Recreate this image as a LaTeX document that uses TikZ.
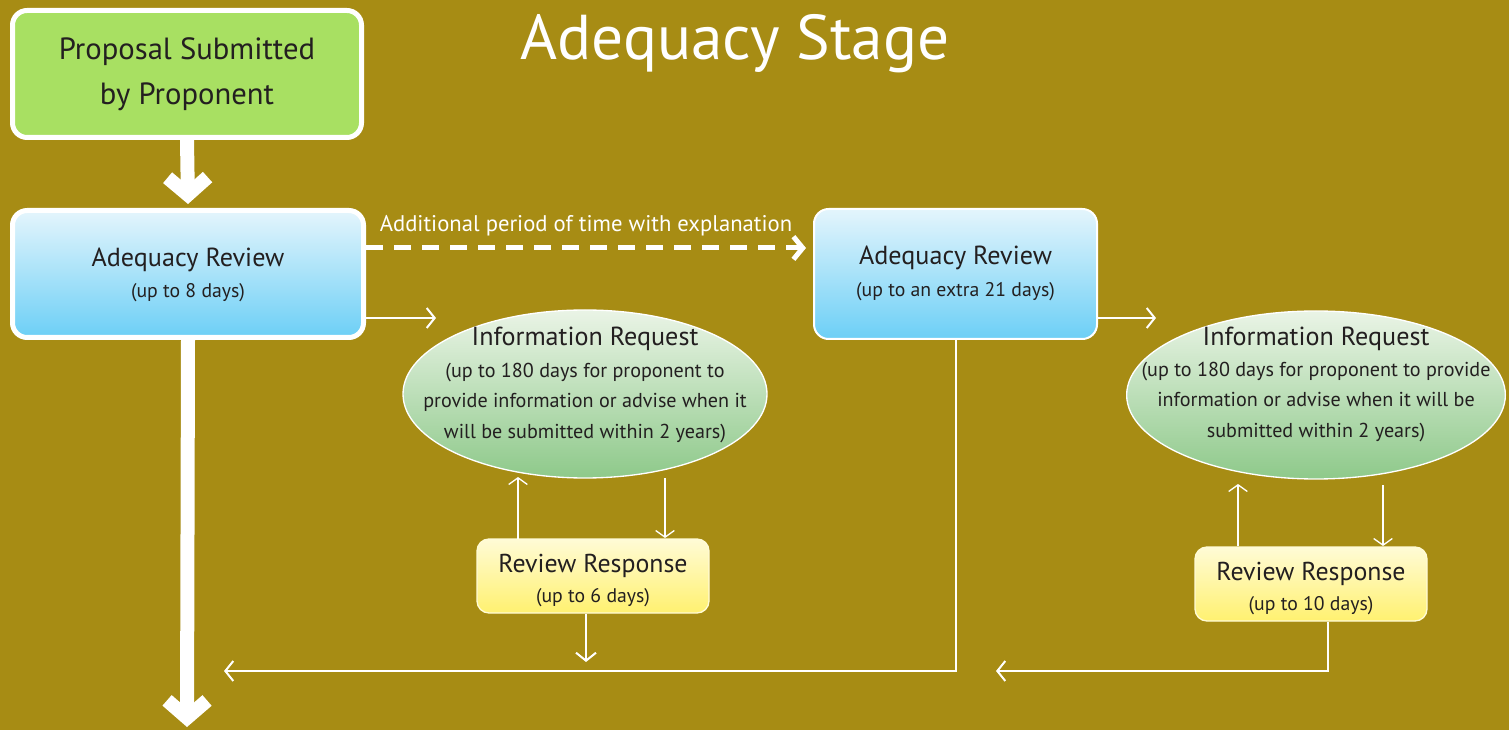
\documentclass[tikz,border=0pt]{standalone}
\usepackage{fontspec}
\setmainfont{PT Sans}
\usetikzlibrary{arrows.meta,shapes.geometric,calc}
\definecolor{bg}{RGB}{167,140,20}
\definecolor{ink}{RGB}{35,31,32}
\definecolor{grn}{RGB}{168,224,98}
\definecolor{bluetop}{RGB}{228,245,252}
\definecolor{bluebot}{RGB}{108,207,246}
\definecolor{eltop}{RGB}{234,244,230}
\definecolor{elbot}{RGB}{142,201,138}
\definecolor{yeltop}{RGB}{255,251,214}
\definecolor{yelbot}{RGB}{255,241,112}
\tikzset{
  bigbox/.style={draw=white, line width=3.75pt, rounded corners=11pt, text=ink, align=center, inner sep=0pt},
  revbox/.style={draw=white, line width=1.5pt, rounded corners=11pt, top color=bluetop, bottom color=bluebot, text=ink, align=center, inner sep=0pt, minimum width=212.25pt, minimum height=97.5pt},
  infoell/.style={ellipse, draw=white, line width=1pt, top color=eltop, bottom color=elbot, inner sep=0pt, minimum width=273pt, minimum height=126pt},
  respbox/.style={draw=yeltop, line width=1pt, rounded corners=9pt, top color=yeltop, bottom color=yelbot, text=ink, align=center, inner sep=0pt, minimum width=174pt, minimum height=55.5pt},
  thickarrow/.style={draw=white, line width=10.5pt, -{Straight Barb[length=13pt, width=30pt]}},
  thinarrow/.style={draw=white, line width=1.5pt, -{Straight Barb[length=6pt, width=15pt]}},
  thinline/.style={draw=white, line width=1pt, -{Straight Barb[length=5pt, width=14pt]}},
  dasharrow/.style={draw=white, line width=3.75pt, dash pattern=on 13pt off 8pt, -{Straight Barb[length=7pt, width=17pt]}},
  bigtxt/.style={font=\fontsize{19.6}{23}\selectfont},
  smalltxt/.style={font=\fontsize{14.8}{18}\selectfont},
  elltxt/.style={font=\fontsize{15.1}{22.8}\selectfont, align=center},
  resptxt/.style={font=\fontsize{19.4}{23}\selectfont},
}
\begin{document}
\begin{tikzpicture}[x=0.75pt,y=-0.75pt]
\fill[bg] (0,0) rectangle (1509,730);
\useasboundingbox (0,0) rectangle (1509,730);

\node[text=white, font=\fontsize{47.5}{52}\selectfont] (title) at (735,44) {Adequacy Stage};

\node[bigbox, fill=grn, minimum width=261.75pt, minimum height=95.25pt, font=\fontsize{23}{27}\selectfont] (prop) at (187,74) {Proposal Submitted\\[7pt]by Proponent};

\node[bigbox, top color=bluetop, bottom color=bluebot, minimum width=263.25pt, minimum height=95.25pt] (ar1) at (188,274) {};
\node[bigtxt, text=ink] (ar1a) at (188,260) {Adequacy Review};
\node[smalltxt, text=ink] (ar1b) at (188,293) {(up to 8 days)};

\node[revbox] (ar2) at (955.5,274) {};
\node[bigtxt, text=ink] (ar2a) at (955.5,258) {Adequacy Review};
\node[smalltxt, text=ink] (ar2b) at (955.5,292) {(up to an extra 21 days)};

\node[infoell] (ir1) at (585,394) {};
\node[bigtxt, text=ink] (ir1a) at (585,339) {Information Request};
\node[elltxt, text=ink] (ir1b) at (585,403) {(up to 180 days for proponent to\\provide information or advise when it\\will be submitted within 2 years)};

\node[infoell, minimum width=284pt] (ir2) at (1316,395) {};
\node[bigtxt, text=ink] (ir2a) at (1316,339) {Information Request};
\node[elltxt, text=ink] (ir2b) at (1316,402) {(up to 180 days for proponent to provide\\information or advise when it will be\\submitted within 2 years)};

\node[respbox] (rr1) at (593,576) {};
\node[resptxt, text=ink] (rr1a) at (593,566) {Review Response};
\node[smalltxt, text=ink] (rr1b) at (593,598) {(up to 6 days)};

\node[respbox] (rr2) at (1311,584) {};
\node[resptxt, text=ink] (rr2a) at (1311,574) {Review Response};
\node[smalltxt, text=ink] (rr2b) at (1311,606) {(up to 10 days)};

% coordinates for free ends
\coordinate (endmain) at (187,727);
\coordinate (dashS) at (366,248);
\coordinate (dashE) at (806,248);
\coordinate (ir1in) at (436,318);
\coordinate (ir2in) at (1156,318);
\coordinate (up1s) at (518,539);
\coordinate (up1e) at (518,477);
\coordinate (dn1s) at (665,478);
\coordinate (dn1e) at (665,538);
\coordinate (up2s) at (1238,546);
\coordinate (up2e) at (1238,484);
\coordinate (dn2s) at (1383,485);
\coordinate (dn2e) at (1383,546);
\coordinate (rr1out) at (586,662);
\coordinate (ret1) at (224,671);
\coordinate (ret2) at (996,671);

% connectors
\draw[thickarrow] (prop.south) -- ([yshift=3pt]ar1.north);
\draw[thickarrow] (ar1.south) -- (endmain);
\draw[dasharrow] (dashS) -- node[above=3.5pt, text=white, font=\fontsize{17}{20}\selectfont] (dlbl) {Additional period of time with explanation} (dashE);
\draw[thinarrow] (ar1.east |- ir1in) -- (ir1in);
\draw[thinarrow] (ar2.east |- ir2in) -- (ir2in);
\draw[thinline] (up1s) -- (up1e);
\draw[thinline] (dn1s) -- (dn1e);
\draw[thinline] (up2s) -- (up2e);
\draw[thinline] (dn2s) -- (dn2e);
\draw[thinarrow] (rr1.south -| rr1out) -- (rr1out);
\draw[thinarrow] (ar2.south) |- (ret1);
\draw[thinarrow] (rr2.south -| 1328,0) |- (ret2);
\end{tikzpicture}
\end{document}
